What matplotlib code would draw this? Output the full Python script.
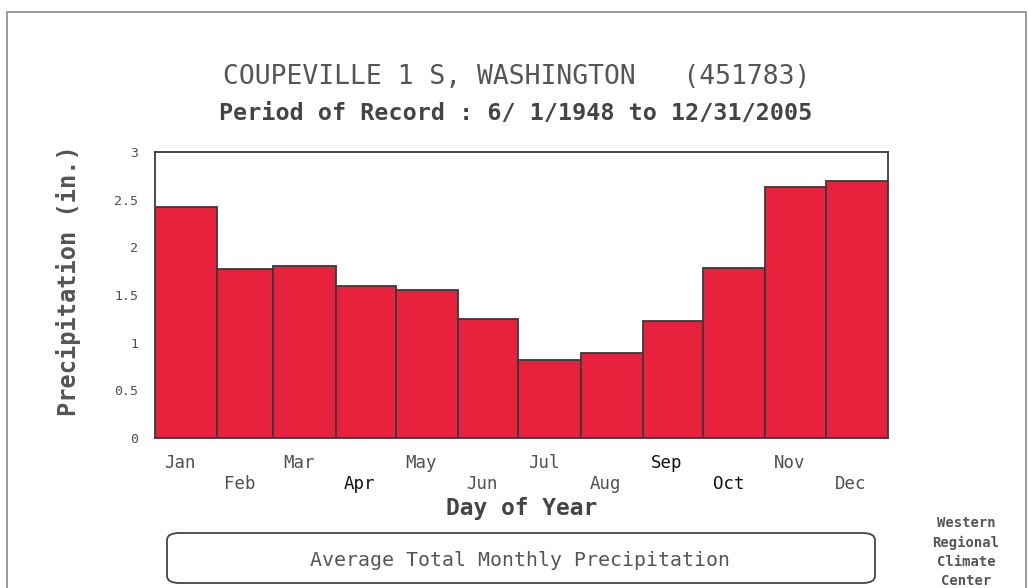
import numpy as np
import matplotlib
matplotlib.use("Agg")
import matplotlib.pyplot as plt
from matplotlib.patches import FancyBboxPatch, Rectangle

months = ['Jan', 'Feb', 'Mar', 'Apr', 'May', 'Jun',
          'Jul', 'Aug', 'Sep', 'Oct', 'Nov', 'Dec']
days_in_month = [31, 28, 31, 30, 31, 30, 31, 31, 30, 31, 30, 31]
precip = [2.42, 1.77, 1.80, 1.59, 1.55, 1.25,
          0.82, 0.89, 1.23, 1.78, 2.63, 2.70]
yticks = [0, 0.5, 1, 1.5, 2, 2.5, 3]
ytick_labels = ['0', '0.5', '1', '1.5', '2', '2.5', '3']

MONO = 'DejaVu Sans Mono'
BAR_RED = '#e8223c'
EDGE = '#3a3a3a'
TXT = '#505050'

fig = plt.figure(figsize=(10.29, 5.88), dpi=100)

# outer frame of the scanned page
fig.patches.append(Rectangle((7 / 1029, -0.05), 1019 / 1029, 1 - 12 / 588 + 0.05,
                             transform=fig.transFigure, fill=False,
                             edgecolor='#8a8a8a', linewidth=1.2))

ax = fig.add_axes([155 / 1029, 1 - 438 / 588, 733 / 1029, 286 / 588])

starts = np.concatenate([[0], np.cumsum(days_in_month)[:-1]])
ax.bar(starts, precip, width=days_in_month, align='edge',
       color=BAR_RED, edgecolor=EDGE, linewidth=1.3)

ax.set_xlim(0, 365)
ax.set_ylim(0, 3)
ax.set_yticks(yticks)
ax.set_yticklabels(ytick_labels, fontfamily=MONO, fontsize=9.5, color=TXT)
ax.tick_params(axis='y', length=0, pad=12)
ax.set_xticks([])
for s in ax.spines.values():
    s.set_color(EDGE)
    s.set_linewidth(1.3)

# month labels, alternating rows
dark = {'Apr', 'Sep', 'Oct'}
for i, (m, st, d) in enumerate(zip(months, starts, days_in_month)):
    y = -0.088 if i % 2 == 0 else -0.16
    ax.text(st + d / 2 - 3, y, m, transform=ax.get_xaxis_transform(),
            ha='center', va='center', fontfamily=MONO, fontsize=12.5,
            color='#111111' if m in dark else TXT)

ax.text(0.5, -0.245, 'Day of Year', transform=ax.transAxes, ha='center',
        va='center', fontfamily=MONO, fontsize=16.5, fontweight='bold', color='#444444')
ax.set_ylabel('Precipitation (in.)', fontfamily=MONO, fontsize=17,
              fontweight='bold', color='#555555')
ax.yaxis.set_label_coords(-74 / 733, 0.55)

fig.text(517 / 1029, 1 - 77 / 588, 'COUPEVILLE 1 S, WASHINGTON   (451783)',
         ha='center', va='center', fontfamily=MONO, fontsize=19, color='#555555')
fig.text(516 / 1029, 1 - 114 / 588, 'Period of Record : 6/ 1/1948 to 12/31/2005',
         ha='center', va='center', fontfamily=MONO, fontsize=16.8,
         fontweight='bold', color='#444444')

# caption box
fig.patches.append(FancyBboxPatch((167 / 1029, 1 - 583 / 588), 708 / 1029, 50 / 588,
                                  boxstyle='round,pad=0,rounding_size=0.012',
                                  transform=fig.transFigure, facecolor='white',
                                  edgecolor='#444444', linewidth=1.3))
fig.text(520 / 1029, 1 - 561 / 588, 'Average Total Monthly Precipitation',
         ha='center', va='center', fontfamily=MONO, fontsize=14.3, color='#555555')

fig.text(966 / 1029, 1 - 552 / 588, 'Western\nRegional\nClimate\nCenter',
         ha='center', va='center', fontfamily=MONO, fontsize=10,
         fontweight='bold', color='#555555', linespacing=1.45)

fig.savefig('out.png', dpi=100)
